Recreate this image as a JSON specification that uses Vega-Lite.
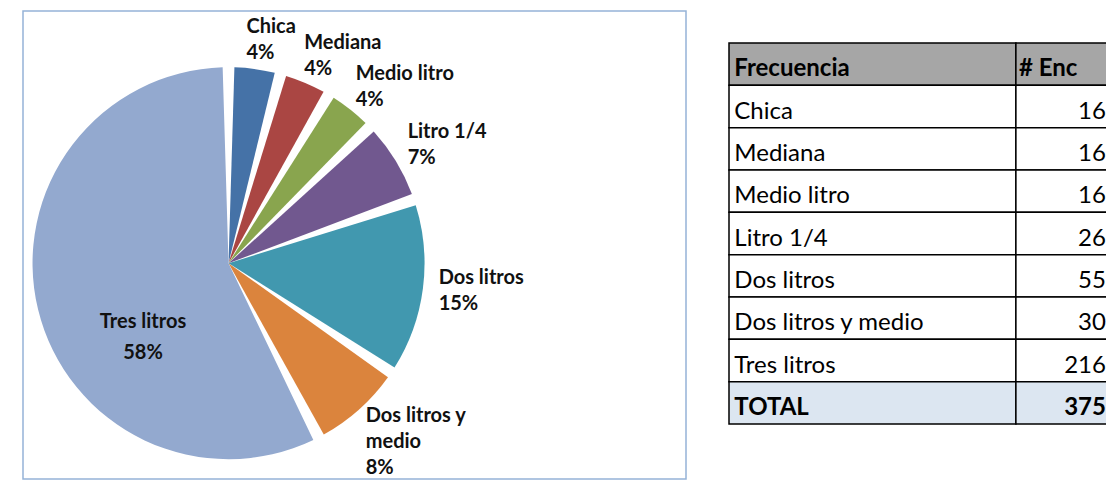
{
  "$schema": "https://vega.github.io/schema/vega-lite/v6.json",
  "padding": {"left": 22, "top": 10, "right": 0, "bottom": 0},
  "spacing": 41,
  "background": "white",
  "config": {"font": "Lato", "view": {"stroke": null}},
  "datasets": {
    "frecuencias": [
      {"Frecuencia": "Chica", "Enc": 16, "etiqueta": "Chica\n4%"},
      {"Frecuencia": "Mediana", "Enc": 16, "etiqueta": "Mediana\n4%"},
      {"Frecuencia": "Medio litro", "Enc": 16, "etiqueta": "Medio litro\n4%"},
      {"Frecuencia": "Litro 1/4", "Enc": 26, "etiqueta": "Litro 1/4\n7%"},
      {"Frecuencia": "Dos litros", "Enc": 55, "etiqueta": "Dos litros\n15%"},
      {"Frecuencia": "Dos litros y medio", "Enc": 30, "etiqueta": "Dos litros y\nmedio\n8%"},
      {"Frecuencia": "Tres litros", "Enc": 216, "etiqueta": "Tres litros\n58%"}
    ],
    "tabla": [
      {"fila": "Frecuencia", "enc": "# Enc", "tipo": "encabezado"},
      {"fila": "Chica", "enc": "16", "tipo": "cuerpo"},
      {"fila": "Mediana", "enc": "16", "tipo": "cuerpo"},
      {"fila": "Medio litro", "enc": "16", "tipo": "cuerpo"},
      {"fila": "Litro 1/4", "enc": "26", "tipo": "cuerpo"},
      {"fila": "Dos litros", "enc": "55", "tipo": "cuerpo"},
      {"fila": "Dos litros y medio", "enc": "30", "tipo": "cuerpo"},
      {"fila": "Tres litros", "enc": "216", "tipo": "cuerpo"},
      {"fila": "TOTAL", "enc": "375", "tipo": "total"}
    ]
  },
  "hconcat": [
    {
      "width": 663,
      "height": 468,
      "view": {"stroke": "#95b3d7", "strokeWidth": 1.5},
      "data": {"name": "frecuencias"},
      "transform": [{"window": [{"op": "row_number", "as": "orden"}]}],
      "encoding": {
        "x": {"datum": 0.31, "type": "quantitative", "scale": {"domain": [0, 1]}, "axis": null},
        "y": {"datum": 0.461, "type": "quantitative", "scale": {"domain": [0, 1]}, "axis": null},
        "theta": {"field": "Enc", "type": "quantitative", "stack": true},
        "order": {"field": "orden", "type": "quantitative"}
      },
      "layer": [
        {
          "mark": {"type": "arc", "radius": 196, "padAngle": 0.06},
          "encoding": {
            "color": {
              "field": "Frecuencia",
              "type": "nominal",
              "scale": {
                "domain": ["Chica", "Mediana", "Medio litro", "Litro 1/4", "Dos litros", "Dos litros y medio", "Tres litros"],
                "range": ["#4572a7", "#aa4643", "#89a54e", "#71588f", "#4198af", "#db843d", "#93a9cf"]
              },
              "legend": null
            }
          }
        },
        {
          "mark": {"type": "text", "radius": 224, "clip": true, "fontWeight": "bold", "fontSize": 20, "lineBreak": "\n", "lineHeight": 26, "dx": -12, "dy": -14, "align": "left", "baseline": "middle"},
          "encoding": {
            "detail": {"field": "Frecuencia", "type": "nominal"},
            "color": {"value": "#111111"},
            "text": {"condition": {"test": "datum.Frecuencia === 'Tres litros'", "value": ""}, "field": "etiqueta", "type": "nominal"}
          }
        },
        {
          "mark": {"type": "text", "radius": 88, "fontWeight": "bold", "fontSize": 20, "lineBreak": "\n", "lineHeight": 31, "dy": 38, "align": "center", "baseline": "middle"},
          "encoding": {
            "detail": {"field": "Frecuencia", "type": "nominal"},
            "color": {"value": "#111111"},
            "text": {"condition": {"test": "datum.Frecuencia !== 'Tres litros'", "value": ""}, "field": "etiqueta", "type": "nominal"}
          }
        }
      ]
    },
    {
      "width": 380,
      "height": 468,
      "data": {"name": "tabla"},
      "encoding": {
        "y": {
          "field": "fila",
          "type": "nominal",
          "axis": null,
          "scale": {
            "domain": ["Frecuencia", "Chica", "Mediana", "Medio litro", "Litro 1/4", "Dos litros", "Dos litros y medio", "Tres litros", "TOTAL"],
            "range": [32, 413],
            "paddingInner": 0,
            "paddingOuter": 0
          }
        }
      },
      "layer": [
        {
          "mark": {"type": "rect", "stroke": "#000000", "strokeWidth": 1.5},
          "encoding": {
            "x": {"datum": 0, "type": "quantitative", "scale": {"domain": [0, 1]}, "axis": null},
            "x2": {"datum": 0.755},
            "fill": {"field": "tipo", "type": "nominal", "scale": {"domain": ["encabezado", "cuerpo", "total"], "range": ["#a6a6a6", "#ffffff", "#dce6f1"]}, "legend": null}
          }
        },
        {
          "mark": {"type": "rect", "stroke": "#000000", "strokeWidth": 1.5},
          "encoding": {
            "x": {"datum": 0.755, "type": "quantitative"},
            "x2": {"datum": 1},
            "fill": {"field": "tipo", "type": "nominal", "legend": null}
          }
        },
        {
          "transform": [{"filter": "datum.tipo === 'cuerpo'"}],
          "mark": {"type": "text", "align": "left", "baseline": "middle", "dy": 5, "fontSize": 24, "color": "#000000"},
          "encoding": {
            "x": {"datum": 0.014, "type": "quantitative"},
            "text": {"field": "fila", "type": "nominal"}
          }
        },
        {
          "transform": [{"filter": "datum.tipo !== 'cuerpo'"}],
          "mark": {"type": "text", "align": "left", "baseline": "middle", "dy": 5, "fontSize": 24, "fontWeight": "bold", "color": "#000000"},
          "encoding": {
            "x": {"datum": 0.014, "type": "quantitative"},
            "text": {"field": "fila", "type": "nominal"}
          }
        },
        {
          "transform": [{"filter": "datum.tipo === 'cuerpo'"}],
          "mark": {"type": "text", "align": "right", "baseline": "middle", "dy": 5, "fontSize": 24, "color": "#000000"},
          "encoding": {
            "x": {"datum": 0.992, "type": "quantitative"},
            "text": {"field": "enc", "type": "nominal"}
          }
        },
        {
          "transform": [{"filter": "datum.tipo === 'total'"}],
          "mark": {"type": "text", "align": "right", "baseline": "middle", "dy": 5, "fontSize": 24, "fontWeight": "bold", "color": "#000000"},
          "encoding": {
            "x": {"datum": 0.992, "type": "quantitative"},
            "text": {"field": "enc", "type": "nominal"}
          }
        },
        {
          "transform": [{"filter": "datum.tipo === 'encabezado'"}],
          "mark": {"type": "text", "align": "left", "baseline": "middle", "dy": 5, "fontSize": 24, "fontWeight": "bold", "color": "#000000"},
          "encoding": {
            "x": {"datum": 0.763, "type": "quantitative"},
            "text": {"field": "enc", "type": "nominal"}
          }
        }
      ]
    }
  ]
}
